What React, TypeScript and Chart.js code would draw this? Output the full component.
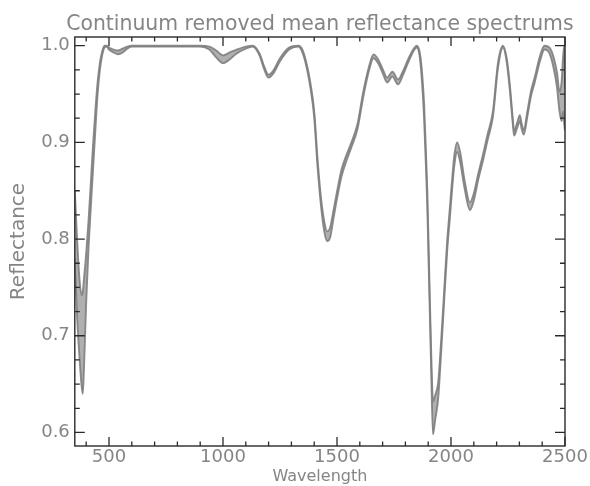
import { useEffect, useRef } from "react";
import { Chart, registerables } from "chart.js";

Chart.register(...registerables);

// Wavelength samples (nm)
const wavelengths = [
  350, 360, 370, 380, 385, 390, 400, 410, 420, 430,
  440, 450, 460, 470, 480, 490, 500, 520, 540, 560,
  580, 600, 700, 800, 900, 940, 970, 1000, 1030, 1060,
  1100, 1130, 1160, 1180, 1200, 1220, 1250, 1290, 1330, 1350,
  1370, 1385, 1400, 1415, 1430, 1445, 1457, 1470, 1485, 1500,
  1520, 1540, 1560, 1590, 1615, 1640, 1660, 1680, 1700, 1720,
  1743, 1768, 1790, 1820, 1850, 1862, 1872, 1882, 1890, 1896,
  1902, 1908, 1914, 1921, 1930, 1944, 1956, 1966, 1983, 1995,
  2005, 2015, 2027, 2040, 2060, 2083, 2100, 2120, 2141, 2160,
  2184, 2206, 2228, 2245, 2259, 2270, 2277, 2290, 2302, 2310,
  2319, 2335, 2350, 2367, 2390, 2410, 2432, 2450, 2465, 2476,
  2485, 2492, 2497, 2500,
];

// Lower envelope of the spectra bundle
const reflectanceLow = [
  0.78, 0.72, 0.68, 0.648, 0.64, 0.665, 0.735, 0.79, 0.832, 0.872,
  0.912, 0.95, 0.975, 0.99, 0.998, 0.999, 0.996, 0.993, 0.991, 0.993,
  0.997, 0.999, 0.999, 0.999, 0.999, 0.996, 0.988, 0.982, 0.986, 0.992,
  0.997, 0.999, 0.99, 0.976, 0.967, 0.971, 0.984, 0.996, 0.999, 0.992,
  0.974, 0.954, 0.926, 0.874, 0.834, 0.807, 0.798, 0.802, 0.822, 0.842,
  0.865, 0.88, 0.893, 0.914, 0.947, 0.974, 0.987, 0.982, 0.972, 0.962,
  0.968, 0.96, 0.97, 0.987, 0.998, 0.99, 0.965, 0.925, 0.875, 0.835,
  0.775, 0.715, 0.655, 0.598, 0.612, 0.636, 0.68, 0.72, 0.787, 0.822,
  0.852, 0.877, 0.89, 0.88, 0.852, 0.83, 0.84, 0.862, 0.882, 0.902,
  0.927, 0.977, 0.998, 0.982, 0.952, 0.922, 0.907, 0.915, 0.922, 0.914,
  0.908, 0.927, 0.947, 0.962, 0.984, 0.996, 0.992, 0.977, 0.957, 0.932,
  0.922, 0.932, 0.918, 0.912,
];

// Upper envelope of the spectra bundle
const reflectanceHigh = [
  0.85, 0.8, 0.76, 0.742, 0.745, 0.758, 0.785, 0.818, 0.857, 0.897,
  0.932, 0.962, 0.982, 0.994, 1.0, 1.0, 0.998, 0.996, 0.995, 0.997,
  0.999, 1.0, 1.0, 1.0, 1.0, 0.999, 0.995, 0.99, 0.993, 0.996,
  0.999, 1.0, 0.992, 0.979, 0.97, 0.974, 0.987, 0.998, 1.0, 0.995,
  0.978, 0.959, 0.932, 0.882, 0.842, 0.817, 0.808, 0.812, 0.83, 0.849,
  0.872, 0.886, 0.898, 0.919, 0.952, 0.978, 0.991, 0.986, 0.976, 0.967,
  0.973, 0.965, 0.974, 0.99, 1.0, 0.994, 0.975, 0.94, 0.89, 0.85,
  0.79, 0.73, 0.675, 0.632, 0.638, 0.652, 0.692, 0.73, 0.797, 0.832,
  0.862, 0.887, 0.9, 0.89, 0.86, 0.838, 0.847, 0.868, 0.888, 0.908,
  0.932, 0.982, 1.0, 0.986, 0.957, 0.927, 0.912, 0.92, 0.928, 0.919,
  0.913, 0.932, 0.952, 0.967, 0.989, 1.0, 0.998, 0.988, 0.972, 0.952,
  0.962, 0.99, 1.0, 0.955,
];

const xTickLabels = [500, 1000, 1500, 2000, 2500];
const yTickLabels = [0.6, 0.7, 0.8, 0.9, 1.0];
const xMinorStep = 100;
const yMinorStep = 0.025;
const chartTitle = "Continuum removed mean reflectance spectrums";

const TEXT = "#858585";
const FONT = "'DejaVu Sans', sans-serif";

const inwardTicks = {
  id: "inwardTicks",
  afterDraw(chart: any) {
    const { ctx, chartArea: a, scales } = chart;
    const x = scales.x;
    const y = scales.y;
    ctx.save();
    ctx.strokeStyle = "#2a2a2a";
    ctx.lineWidth = 1.4;
    ctx.strokeRect(a.left, a.top, a.right - a.left, a.bottom - a.top);
    ctx.lineWidth = 1.3;
    ctx.beginPath();
    const k0 = Math.ceil(x.min / xMinorStep - 1e-9);
    for (let k = k0; k * xMinorStep <= x.max + 1e-9; k++) {
      const v = k * xMinorStep;
      const major = xTickLabels.some((t) => Math.abs(t - v) < 1e-6);
      const len = major ? 9 : 4.5;
      const px = x.getPixelForValue(v);
      ctx.moveTo(px, a.bottom);
      ctx.lineTo(px, a.bottom - len);
      ctx.moveTo(px, a.top);
      ctx.lineTo(px, a.top + len);
    }
    const j0 = Math.ceil(y.min / yMinorStep - 1e-9);
    for (let j = j0; j * yMinorStep <= y.max + 1e-9; j++) {
      const v = j * yMinorStep;
      const major = yTickLabels.some((t) => Math.abs(t - v) < 1e-6);
      const len = major ? 10 : 5;
      const py = y.getPixelForValue(v);
      ctx.moveTo(a.left, py);
      ctx.lineTo(a.left + len, py);
      ctx.moveTo(a.right, py);
      ctx.lineTo(a.right - len, py);
    }
    ctx.stroke();

    // Title centred over the plot area
    ctx.fillStyle = TEXT;
    ctx.font = `20.4px ${FONT}`;
    ctx.textAlign = "center";
    ctx.textBaseline = "alphabetic";
    ctx.fillText(chartTitle, (a.left + a.right) / 2, 30);
    ctx.restore();
  },
};

export default function App() {
  const ref = useRef<HTMLCanvasElement | null>(null);

  useEffect(() => {
    if (!ref.current) return;
    const lineStyle = {
      borderColor: "rgba(128,128,128,0.9)",
      borderWidth: 1.9,
      pointRadius: 0,
      cubicInterpolationMode: "monotone" as const,
    };
    const chart = new Chart(ref.current, {
      type: "line",
      data: {
        datasets: [
          {
            ...lineStyle,
            label: "low",
            fill: false,
            data: wavelengths.map((w, i) => ({ x: w, y: reflectanceLow[i] })),
          },
          {
            ...lineStyle,
            label: "high",
            fill: "-1",
            backgroundColor: "rgba(150,150,150,0.75)",
            data: wavelengths.map((w, i) => ({ x: w, y: reflectanceHigh[i] })),
          },
        ],
      },
      options: {
        animation: false,
        responsive: false,
        events: [],
        layout: { padding: { left: 0, right: 25, top: 37, bottom: 0 } },
        plugins: {
          legend: { display: false },
          tooltip: { enabled: false },
          title: { display: false },
        },
        scales: {
          x: {
            type: "linear",
            min: 350,
            max: 2500,
            grid: { display: false, drawTicks: false },
            border: { display: false },
            afterBuildTicks: (s: any) => {
              s.ticks = xTickLabels.map((value) => ({ value }));
            },
            afterFit: (s: any) => {
              s.height = 40;
            },
            ticks: {
              autoSkip: false,
              maxRotation: 0,
              padding: 1,
              color: TEXT,
              font: { family: FONT, size: 18 },
              callback: (v: any) => String(v),
            },
            title: {
              display: true,
              text: "Wavelength",
              color: TEXT,
              font: { family: FONT, size: 16 },
              padding: { top: 0, bottom: 0 },
            },
          },
          y: {
            type: "linear",
            min: 0.586,
            max: 1.009,
            grid: { display: false, drawTicks: false },
            border: { display: false },
            afterBuildTicks: (s: any) => {
              s.ticks = yTickLabels.map((value) => ({ value }));
            },
            afterFit: (s: any) => {
              s.width = 74.8;
            },
            ticks: {
              autoSkip: false,
              padding: 5,
              color: TEXT,
              font: { family: FONT, size: 18 },
              callback: (v: any) => Number(v).toFixed(1),
            },
            title: {
              display: true,
              text: "Reflectance",
              color: TEXT,
              font: { family: FONT, size: 20 },
              padding: { top: 7, bottom: 0 },
            },
          },
        },
      },
      plugins: [inwardTicks],
    });
    return () => chart.destroy();
  }, []);

  return (
    <div style={{ position: "fixed", left: 0, top: 0, width: 590, height: 486, background: "#fff" }}>
      <canvas ref={ref} width={590} height={486} style={{ display: "block" }} />
    </div>
  );
}
